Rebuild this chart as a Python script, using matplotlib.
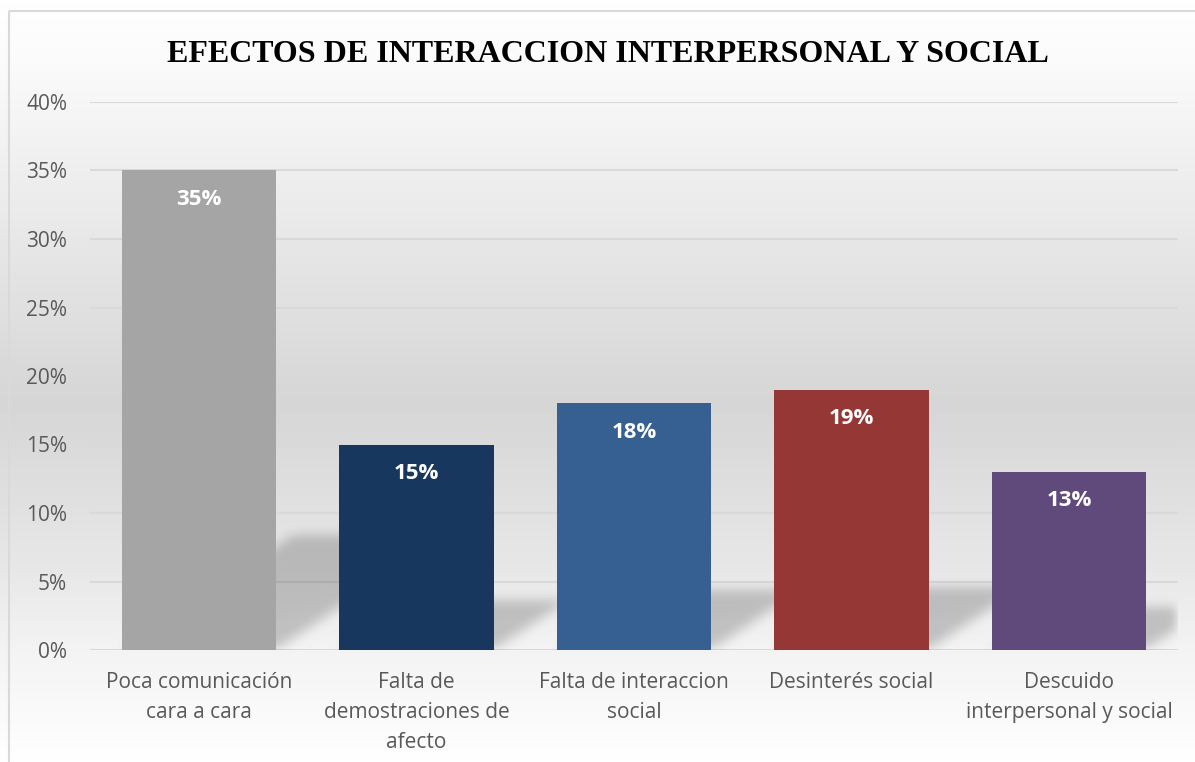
import numpy as np
import matplotlib
matplotlib.use('Agg')
import matplotlib.pyplot as plt
from matplotlib.patches import Rectangle
from matplotlib.colors import LinearSegmentedColormap

categorias = ['Poca comunicación\ncara a cara',
              'Falta de\ndemostraciones de\nafecto',
              'Falta de interaccion\nsocial',
              'Desinterés social',
              'Descuido\ninterpersonal y social']
valores = [35, 15, 18, 19, 13]
colores = ['#a5a5a5', '#17375e', '#366092', '#953735', '#604a7b']
yticks = [0, 5, 10, 15, 20, 25, 30, 35, 40]
titulo = 'EFECTOS DE INTERACCION INTERPERSONAL Y SOCIAL'

W, H = 1195, 762
fig = plt.figure(figsize=(W / 100, H / 100), dpi=100)

# fondo degradado (blanco - gris - blanco)
bg = fig.add_axes([0, 0, 1, 1], zorder=-5)
bg.set_axis_off()
ys = np.linspace(0, 1, 762)
cmap = LinearSegmentedColormap.from_list('g', [(0, '#ffffff'), (0.08, '#fbfbfb'),
                                               (0.53, '#d6d6d6'), (0.75, '#e8e8e8'),
                                               (0.86, '#f4f4f4'), (1, '#ffffff')])
bg.imshow(ys[:, None], cmap=cmap, aspect='auto', extent=[0, 1, 1, 0])
bg.set_xlim(0, 1)
bg.set_ylim(1, 0)
bg.add_patch(Rectangle((9 / W, 11 / H), 1.2, 1.2, fill=False, edgecolor='#d9d9d9', lw=1.5))

ax = fig.add_axes([90 / W, (H - 650) / H, 1088 / W, 548 / H])
ax.patch.set_alpha(0)
x = np.arange(len(valores))
ancho = 0.71
ax.set_xlim(-0.5, 4.5)
ax.set_ylim(0, 40)

# sombra en perspectiva detras de cada barra (mascara difuminada)
nx, ny = 1088, 548
gx = np.linspace(-0.5, 4.5, nx)
gy = np.linspace(0, 40, ny)
XX, YY = np.meshgrid(gx, gy)
mask = np.zeros((ny, nx))
for xi, v in zip(x, valores):
    hs = 0.24 * v
    sh = 0.094 * hs
    f = np.clip(YY / hs, 0, None)
    dentro = (YY <= hs) & (XX >= xi - ancho / 2 + sh * f) & (XX <= xi + ancho / 2 + sh * f)
    mask[dentro] = 1.0

def suavizar(a, r, eje):
    k = np.ones(2 * r + 1) / (2 * r + 1)
    return np.apply_along_axis(lambda m: np.convolve(m, k, mode='same'), eje, a)

for _ in range(3):
    mask = suavizar(mask, 5, 0)
    mask = suavizar(mask, 5, 1)

sombra = np.zeros((ny, nx, 4))
sombra[..., 3] = mask * 0.2
ax.imshow(sombra, extent=[-0.5, 4.5, 0, 40], origin='lower', aspect='auto',
          interpolation='bilinear', zorder=1)

barras = ax.bar(x, valores, width=ancho, color=colores, zorder=3)
for b, v in zip(barras, valores):
    ax.text(b.get_x() + b.get_width() / 2, v - 2.1, f'{v}%', ha='center', va='center',
            color='white', fontsize=16, fontweight='bold', family='Open Sans', zorder=4)

ax.set_xlim(-0.5, 4.5)
ax.set_ylim(0, 40)
ax.set_yticks(yticks)
ax.set_yticklabels([f'{t}%' for t in yticks])
ax.set_xticks(x)
ax.set_xticklabels(categorias)
ax.set_axisbelow(True)
ax.grid(axis='y', color='#d9d9d9', lw=1.5)
ax.xaxis.grid(False)
for s in ax.spines.values():
    s.set_visible(False)
ax.tick_params(axis='both', length=0, labelcolor='#595959', labelsize=15)
ax.tick_params(axis='y', pad=16.5)
ax.tick_params(axis='x', pad=16)
for lab in ax.get_xticklabels() + ax.get_yticklabels():
    lab.set_family('Open Sans')
for lab in ax.get_xticklabels():
    lab.set_linespacing(1.55)

fig.text(608 / W, 1 - 62 / H, titulo, ha='center', va='baseline', fontsize=23,
         fontweight='bold', family='Liberation Serif', color='black')

fig.savefig('out.png', dpi=100)
